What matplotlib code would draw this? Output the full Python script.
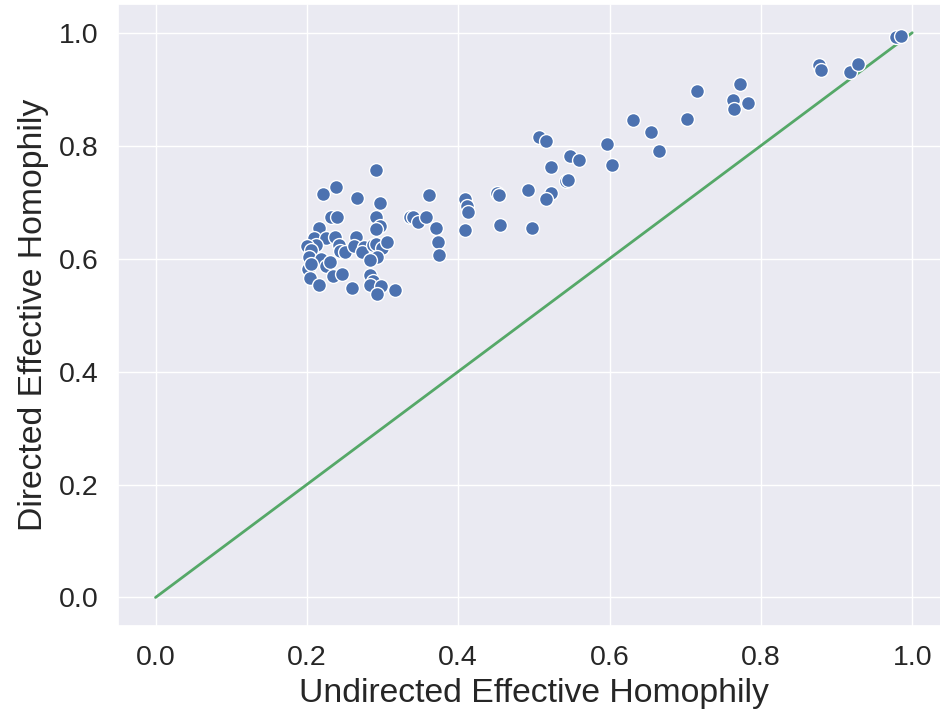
import numpy as np
import matplotlib
matplotlib.use("Agg")
import matplotlib.pyplot as plt
import seaborn as sns

# undirected vs directed effective homophily
undirected = [
    0.292, 0.239, 0.221, 0.266, 0.297, 0.336, 0.232, 0.240, 0.292, 0.297,
    0.292, 0.216, 0.210, 0.225, 0.237, 0.212, 0.200, 0.205, 0.242, 0.244,
    0.251, 0.265, 0.262, 0.275, 0.273, 0.287, 0.291, 0.299, 0.306, 0.293,
    0.284, 0.203, 0.219, 0.225, 0.231, 0.202, 0.206, 0.204, 0.216, 0.234,
    0.247, 0.260, 0.283, 0.287, 0.284, 0.298, 0.293, 0.316,
    0.507, 0.516, 0.548, 0.560, 0.522, 0.542, 0.545, 0.492, 0.451, 0.454,
    0.522, 0.516, 0.362, 0.409, 0.411, 0.413, 0.340, 0.347, 0.357, 0.370,
    0.373, 0.374, 0.409, 0.455, 0.498,
    0.979, 0.985, 0.877, 0.880, 0.918, 0.929, 0.772, 0.715, 0.763, 0.764,
    0.783, 0.631, 0.702, 0.655, 0.666, 0.597, 0.603,
]
directed = [
    0.757, 0.727, 0.714, 0.708, 0.699, 0.674, 0.674, 0.673, 0.674, 0.658,
    0.652, 0.654, 0.637, 0.637, 0.638, 0.624, 0.622, 0.616, 0.624, 0.613,
    0.612, 0.639, 0.622, 0.620, 0.612, 0.624, 0.625, 0.619, 0.630, 0.603,
    0.597, 0.603, 0.600, 0.587, 0.594, 0.581, 0.590, 0.566, 0.553, 0.569,
    0.573, 0.548, 0.571, 0.560, 0.554, 0.552, 0.537, 0.544,
    0.816, 0.808, 0.781, 0.775, 0.763, 0.738, 0.739, 0.722, 0.717, 0.713,
    0.716, 0.706, 0.712, 0.705, 0.693, 0.683, 0.674, 0.665, 0.674, 0.655,
    0.629, 0.607, 0.651, 0.659, 0.655,
    0.993, 0.994, 0.942, 0.934, 0.930, 0.945, 0.909, 0.896, 0.880, 0.865,
    0.875, 0.846, 0.848, 0.824, 0.791, 0.803, 0.766,
]
diag = [0, 1]

sns.set_theme()
plt.rcParams['font.family'] = ['Liberation Sans', 'DejaVu Sans']
fig = plt.figure(figsize=(9.4, 7.14), dpi=100)
ax = fig.add_axes([0.1252, 0.1237, 0.8855, 0.870])

sns.scatterplot(x=undirected, y=directed, s=100, color="#4c72b0",
                edgecolor="white", linewidth=1, ax=ax, zorder=3)
ax.plot(diag, diag, color="#55a868", linewidth=2.0, zorder=2)

ax.set_xlim(-0.05, 1.05)
ax.set_ylim(-0.05, 1.05)
ticks = np.arange(0, 1.01, 0.2)
ax.set_xticks(ticks)
ax.set_yticks(ticks)
ax.set_xticklabels([f"{v:.1f}" for v in ticks])
ax.set_yticklabels([f"{v:.1f}" for v in ticks])
ax.tick_params(labelsize=20.5, length=0, pad=14)
ax.set_xlabel("Undirected Effective Homophily", fontsize=24.3, labelpad=5)
ax.set_ylabel("Directed Effective Homophily", fontsize=24.3, labelpad=7)

fig.savefig("out.png", dpi=100)
